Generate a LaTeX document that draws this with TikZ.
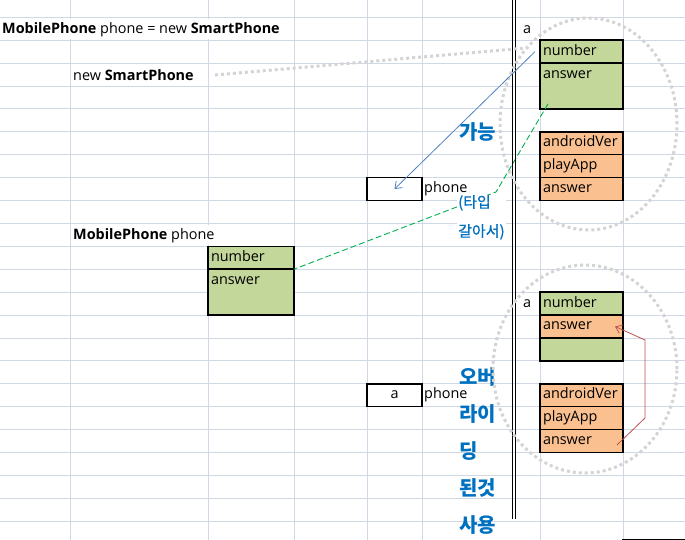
\documentclass[tikz,border=0pt]{standalone}
\usepackage{fontspec}
\setmainfont{Open Sans}
\newfontfamily\kor{Noto Sans CJK KR}
\newfontfamily\korsemi[FakeBold=0.8]{Noto Sans CJK KR}
\usetikzlibrary{positioning, shapes.geometric, arrows.meta}

\definecolor{gridline}{HTML}{D0D7E5}
\definecolor{numgreen}{HTML}{C4D79B}
\definecolor{extorange}{HTML}{FAC090}
\definecolor{notetext}{HTML}{0070C0}
\definecolor{castblue}{HTML}{4F81BD}
\definecolor{overred}{HTML}{C0504D}
\definecolor{typegreen}{HTML}{00B050}
\definecolor{objgray}{HTML}{D4D4D4}

\begin{document}
\begin{tikzpicture}[
    x=1pt, y=-1pt,
    node distance=0pt,
    every node/.style={font=\fontsize{14.4}{16}\selectfont},
    txt/.style={anchor=west, inner xsep=2pt, inner ysep=0pt, minimum height=20pt},
    cell/.style={draw, line width=1.6pt, outer sep=0pt, minimum width=83pt, minimum height=22.9pt, text width=77pt, inner xsep=3pt, inner ysep=0pt, align=left, text height=10.5pt, text depth=3.5pt},
    tallcell/.style={cell, minimum height=45.8pt, text height=15pt, text depth=30.8pt},
    field/.style={cell, fill=numgreen},
    extra/.style={cell, fill=extorange},
    refbox/.style={draw, line width=1.6pt, outer sep=0pt, minimum width=55pt, minimum height=22.9pt, inner sep=0pt},
    object/.style={ellipse, draw=objgray, line width=3pt, dash pattern=on 3pt off 3pt, inner sep=0pt},
    note/.style={text=notetext, font=\kor\bfseries\fontsize{20}{37}\selectfont, align=left, inner sep=1pt}
]
\useasboundingbox (0,0) rectangle (685,540);

% Sheet grid
\foreach \r in {0,...,22}
    \draw[gridline, line width=0.8pt] (0,17.3+22.9*\r) -- (685,17.3+22.9*\r);
\foreach \c in {70,208,294,367,422,540,623}
    \draw[gridline, line width=0.8pt] (\c,0) -- (\c,540);

% Code lines
\node[txt, fill=white] (decl) at (0,29.5) {\textbf{MobilePhone} phone = new \textbf{SmartPhone}};
\node[txt] (newSP) at (71,75) {new \textbf{SmartPhone}};
\node[txt, fill=white] (declL) at (71,235.3) {\textbf{MobilePhone} phone};

% Object on the heap (upper)
\node[txt] (aTop) at (521,29.5) {a};
\node[field, anchor=north west] (numT) at (540,40.2) {number};
\node[tallcell, fill=numgreen, below=of numT] (ansT) {answer};
\node[extra, below=22.9pt of ansT] (verT) {androidVer};
\node[extra, below=of verT] (appT) {playApp};
\node[extra, below=of appT] (ovrT) {answer};

% Reference (upper)
\node[refbox, anchor=north west] (refT) at (367,177.6) {};

% MobilePhone type
\node[field, anchor=north west, minimum width=86pt, text width=80pt] (numL) at (208,246.3) {number};
\node[tallcell, fill=numgreen, minimum width=86pt, text width=80pt, below=of numL] (ansL) {answer};

% Object on the heap (lower)
\node[txt] (aBot) at (521,303.8) {a};
\node[field, anchor=north west] (numB) at (540,292.1) {number};
\node[extra, below=of numB] (ansB) {answer};
\node[field, below=of ansB] (padB) {};
\node[extra, below=22.9pt of padB] (verB) {androidVer};
\node[extra, below=of verB] (appB) {playApp};
\node[extra, below=of appB] (ovrB) {answer};

% Reference (lower)
\node[refbox, anchor=north west] (refB) at (367,383.7) {a};
\node[txt, right=0pt of refB] (phoneB) {phone};

% Same type link
\coordinate (kink) at (496,192);
\draw[typegreen, line width=0.9pt, dash pattern=on 6pt off 3pt] ([xshift=8pt,yshift=5pt]ansT.south west) -- (kink) -- (numL.south east);

% Notes
\node[note, anchor=base west] (ok) at (458,139.7) {가능};
\node[note, font=\korsemi\fontsize{15}{29}\selectfont, align=left, fill=white, anchor=north west, inner ysep=0pt] (same) at (457,195) {(타입\\갈아서)};
\node[note, anchor=north west] (used) at (458,366) {오버\\라이\\딩\\된것\\사용};
\node[txt, right=0pt of refT] (phoneT) {phone};

% Stack / heap border
\draw[line width=0.7pt] (512.5,0) -- (512.5,519);
\draw[line width=0.7pt] (515,0) -- (515,519);
\draw[line width=1.6pt] (622,539.5) -- (685,539.5);

% Objects
\node[object, minimum width=177pt, minimum height=212pt] (objT) at (588.5,124) {};
\node[object, minimum width=184pt, minimum height=208pt] (objB) at (585,369) {};
\draw[objgray, line width=3pt, dash pattern=on 3pt off 3pt] ([xshift=19pt]newSP.east) -- (objT.130);

% Arrows
\draw[castblue, line width=0.8pt, -{Straight Barb[length=6pt,width=9pt]}] ([xshift=-5pt]numT.west) -- (refT.center);
\coordinate (bendL) at (645,418);
\coordinate (bendH) at (645,340);
\draw[overred, line width=0.8pt, -{Straight Barb[length=6pt,width=9pt]}] ([xshift=-6pt,yshift=-4pt]ovrB.east) -- (bendL) -- (bendH) -- ([xshift=-8pt]ansB.east);

\end{tikzpicture}
\end{document}
